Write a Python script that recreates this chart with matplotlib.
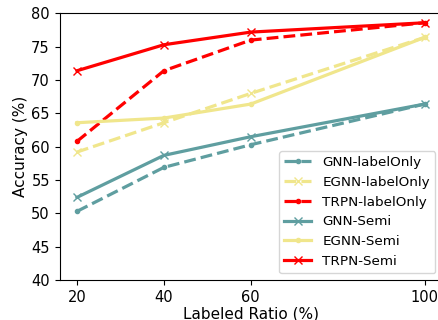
import matplotlib
matplotlib.use("Agg")
import matplotlib.pyplot as plt

ratios = [20, 40, 60, 100]

gnn_label = [50.3, 56.9, 60.3, 66.4]
egnn_label = [59.2, 63.6, 68.0, 76.4]
trpn_label = [60.8, 71.4, 76.0, 78.6]
gnn_semi = [52.4, 58.7, 61.5, 66.4]
egnn_semi = [63.6, 64.3, 66.4, 76.4]
trpn_semi = [71.4, 75.3, 77.2, 78.6]

c_gnn = "cadetblue"
c_egnn = "khaki"
c_trpn = "red"

fig = plt.figure(figsize=(4.38, 3.2), dpi=100)
ax = fig.add_axes([0.136, 0.125, 0.873, 0.833])

lw = 2.3
ax.plot(ratios, gnn_label, "--", marker=".", color=c_gnn, lw=lw, label="GNN-labelOnly")
ax.plot(ratios, egnn_label, "--", marker="x", color=c_egnn, lw=lw, label="EGNN-labelOnly")
ax.plot(ratios, trpn_label, "--", marker=".", color=c_trpn, lw=lw, label="TRPN-labelOnly")
ax.plot(ratios, gnn_semi, "-", marker="x", color=c_gnn, lw=lw, label="GNN-Semi")
ax.plot(ratios, egnn_semi, "-", marker=".", color=c_egnn, lw=lw, label="EGNN-Semi")
ax.plot(ratios, trpn_semi, "-", marker="x", color=c_trpn, lw=lw, label="TRPN-Semi")

ax.set_ylim(40, 80)
ax.set_yticks(range(40, 81, 5))
ax.set_xticks(ratios)
ax.tick_params(labelsize=10.5)
ax.set_xlabel("Labeled Ratio (%)", fontsize=11, labelpad=1)
ax.set_ylabel("Accuracy (%)", fontsize=11, labelpad=2)
ax.legend(loc="lower right", fontsize=9.7)

fig.savefig("out.png", dpi=100)
